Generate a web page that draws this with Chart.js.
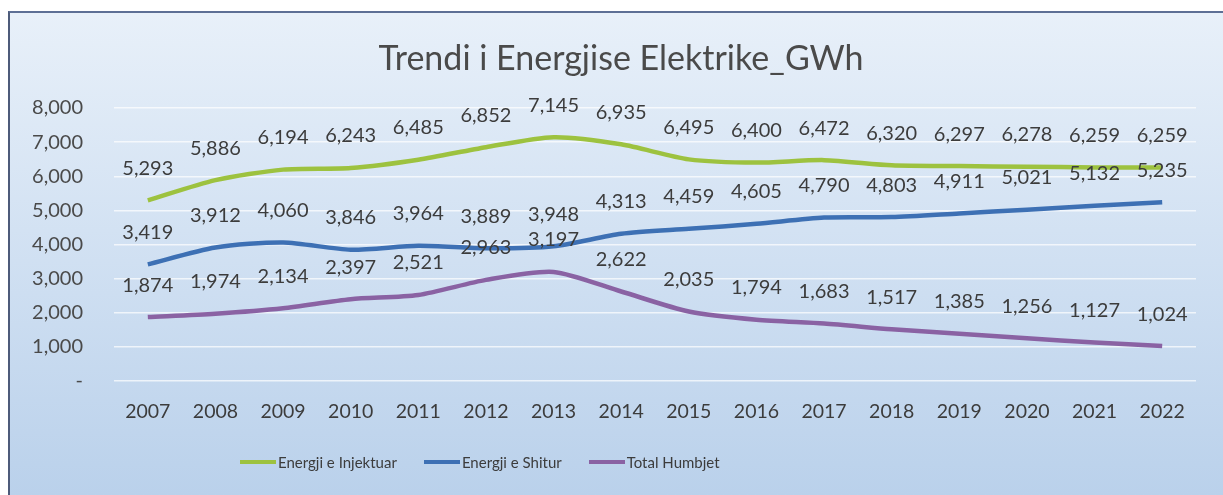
<!DOCTYPE html>
<html lang="sq">
<head>
  <meta charset="UTF-8">
  <title>Trendi i Energjise Elektrike</title>
  <style>
    html, body {
      margin: 0;
      padding: 0;
      background: #fff;
      font-family: 'Lato', sans-serif;
      overflow: hidden;
      width: 1223px;
      height: 495px;
    }
    .frame {
      position: absolute;
      left: 8px;
      top: 11px;
      width: 1215px;
      height: 484px;
      border-top: 2px solid #5d6f95;
      border-left: 2px solid #4d5b7a;
      box-sizing: border-box;
      background: linear-gradient(to bottom, #e8f0f9 0%, #d3e2f3 45%, #bad1eb 100%);
    }
    .chart-container {
      position: absolute;
      left: 0;
      top: 0;
      width: 1223px;
      height: 495px;
    }
    .title {
      position: absolute;
      left: 0;
      width: 1242px;
      top: 36px;
      text-align: center;
      font-size: 34px;
      color: #4a4a4a;
    }
    .legend {
      position: absolute;
      left: 240px;
      top: 453px;
      display: flex;
      align-items: center;
      font-size: 15px;
      color: #3c3c3c;
    }
    .legend .item {
      display: flex;
      align-items: center;
      margin-right: 27px;
    }
    .legend .swatch {
      width: 36px;
      height: 4px;
      margin-right: 2px;
    }
  </style>
  <script src="https://cdn.jsdelivr.net/npm/chart.js"></script>
</head>
<body>
  <div class="frame"></div>
  <div class="chart-container">
    <canvas id="energyChart" width="1223" height="495"></canvas>
  </div>
  <div class="title">Trendi i Energjise Elektrike_GWh</div>
  <div class="legend" id="legend"></div>

  <script>
    const years = ['2007', '2008', '2009', '2010', '2011', '2012', '2013', '2014',
                   '2015', '2016', '2017', '2018', '2019', '2020', '2021', '2022'];
    const injektuar = [5293, 5886, 6194, 6243, 6485, 6852, 7145, 6935, 6495, 6400, 6472, 6320, 6297, 6278, 6259, 6259];
    const shitur = [3419, 3912, 4060, 3846, 3964, 3889, 3948, 4313, 4459, 4605, 4790, 4803, 4911, 5021, 5132, 5235];
    const humbjet = [1874, 1974, 2134, 2397, 2521, 2963, 3197, 2622, 2035, 1794, 1683, 1517, 1385, 1256, 1127, 1024];
    const yTicks = [0, 1000, 2000, 3000, 4000, 5000, 6000, 7000, 8000];

    const seriesNames = ['Energji e Injektuar', 'Energji e Shitur', 'Total Humbjet'];
    const seriesColors = ['#9dc23f', '#3d70b4', '#8a62a3'];

    // value labels above each point, like the Excel data labels
    const pointLabels = {
      id: 'pointLabels',
      afterDatasetsDraw(chart) {
        const ctx = chart.ctx;
        ctx.save();
        ctx.font = '20px Lato';
        ctx.fillStyle = '#3c3c3c';
        ctx.textAlign = 'center';
        ctx.textBaseline = 'middle';
        chart.data.datasets.forEach((ds, i) => {
          chart.getDatasetMeta(i).data.forEach((pt, j) => {
            ctx.fillText(ds.data[j].toLocaleString('en-US'), pt.x, pt.y - 32);
          });
        });
        ctx.restore();
      }
    };

    const energyCtx = document.getElementById('energyChart').getContext('2d');
    const energyChart = new Chart(energyCtx, {
      type: 'line',
      data: {
        labels: years,
        datasets: [injektuar, shitur, humbjet].map((d, i) => ({
          label: seriesNames[i],
          data: d,
          borderColor: seriesColors[i],
          backgroundColor: seriesColors[i],
          borderWidth: 4.5,
          pointRadius: 0,
          tension: 0.25,
          fill: false
        }))
      },
      options: {
        responsive: false,
        animation: false,
        layout: {
          padding: { left: 0, right: 27, top: 108, bottom: 0 }
        },
        scales: {
          x: {
            offset: true,
            grid: { display: false, drawTicks: false },
            border: { display: false },
            ticks: {
              padding: 19,
              color: '#3c3c3c',
              font: { family: 'Lato', size: 19.5 }
            },
            afterFit(scale) { scale.height = 114; }
          },
          y: {
            min: 0,
            max: 8000,
            afterBuildTicks(scale) {
              scale.ticks = yTicks.map(v => ({ value: v }));
            },
            grid: { color: 'rgba(255, 255, 255, 0.7)', lineWidth: 1.5, drawTicks: false },
            border: { display: false },
            ticks: {
              padding: 31,
              color: '#4a4a4a',
              font: { family: 'Lato', size: 20 },
              callback: (v) => v === 0 ? '-' : v.toLocaleString('en-US')
            },
            afterFit(scale) { scale.width = 114; }
          }
        },
        plugins: {
          legend: { display: false },
          tooltip: { enabled: false }
        }
      },
      plugins: [pointLabels]
    });

    // legend drawn as html so it can sit where the original has it
    const legendEl = document.getElementById('legend');
    seriesNames.forEach((name, i) => {
      const item = document.createElement('div');
      item.className = 'item';
      item.innerHTML = '<span class="swatch" style="background:' + seriesColors[i] + '"></span>' + name;
      legendEl.appendChild(item);
    });
  </script>
</body>
</html>
